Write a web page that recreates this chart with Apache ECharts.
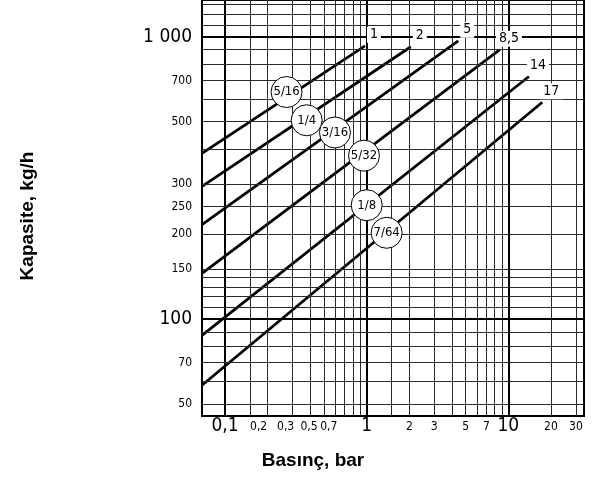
<!DOCTYPE html>
<html><head><meta charset="utf-8">
<script src="https://cdn.jsdelivr.net/npm/echarts@6/dist/echarts.min.js"></script>
<style>html,body{margin:0;padding:0;background:#fff}#c{width:592px;height:481px}</style>
</head><body><div id="c"></div>
<script>
// ---- data ----
const orifices = ['5/16', '1/4', '3/16', '5/32', '1/8', '7/64'];
const maxPressureLabels = ['1', '2', '5', '8,5', '14', '17'];
const startPressure = [0.0688, 0.0688, 0.0688, 0.0688, 0.0688, 0.0688];
const startCapacity = [386, 295, 216, 145, 87.4, 58.2];
const endPressure = [0.973, 2.05, 4.43, 8.72, 13.97, 17.35];
const endCapacity = [929, 922, 968, 900, 723, 586];
const circlePressure = [0.272, 0.377, 0.597, 0.957, 1.0, 1.384];
const circleCapacity = [637, 506, 458, 379, 253, 202];

const xGridValues = [0.1, 0.15, 0.2, 0.3, 0.4, 0.5, 0.6, 0.7, 0.8, 0.9, 1, 1.5, 2, 3, 4, 5, 6, 7, 8, 9, 10, 20, 30];
const yGridValues = [50, 60, 70, 80, 90, 100, 110, 120, 130, 140, 150, 200, 250, 300, 400, 500, 600, 700, 800, 900, 1000, 1100, 1200, 1300];
const xTickValues = [0.1, 0.2, 0.3, 0.5, 0.7, 1, 2, 3, 5, 7, 10, 20, 30];
const xTickLabels = ['0,1', '0,2', '0,3', '0,5', '0,7', '1', '2', '3', '5', '7', '10', '20', '30'];
const yTickValues = [50, 70, 100, 150, 200, 250, 300, 500, 700, 1000];
const yTickLabels = ['50', '70', '100', '150', '200', '250', '300', '500', '700', '1 000'];
const xMin = 0.0688, xMax = 34.2, yMin = 45.3, yMax = 1350;

// ---- styling ----
const NARROW = "'DejaVu Sans Condensed', 'Liberation Sans Narrow', sans-serif";
const BOLD = "'Liberation Sans', Arial, sans-serif";
const xMajor = [0.1, 1, 10];
const yMajor = [100, 1000];
const xLabelShift = {0.2: -9, 0.3: -7, 0.5: -15, 0.7: -16};
const yLabelShift = {200: -8, 70: -10, 50: -10};

const gridLines = [];
xGridValues.forEach(v => {
  const major = xMajor.includes(v);
  const idx = xTickValues.indexOf(v);
  const item = {xAxis: v, lineStyle: {color: major ? '#000' : '#2a2a2a', width: major ? 2 : 1, type: 'solid'}};
  if (idx >= 0) {
    const sh = xLabelShift[v] || 0;
    item.label = {
      show: true, position: 'start', formatter: xTickLabels[idx],
      distance: major ? 1 : 5,
      fontFamily: NARROW, fontSize: major ? 19 : 12, color: '#000',
      padding: sh < 0 ? [0, -2 * sh, 0, 0] : 0
    };
  } else {
    item.label = {show: false};
  }
  gridLines.push(item);
});
yGridValues.forEach(v => {
  const major = yMajor.includes(v);
  const idx = yTickValues.indexOf(v);
  const item = {yAxis: v, lineStyle: {color: major ? '#000' : '#2a2a2a', width: major ? 2 : 1, type: 'solid'}};
  if (idx >= 0) {
    const sh = yLabelShift[v] || 0;
    item.label = {
      show: true, position: 'start', formatter: yTickLabels[idx],
      distance: 10,
      fontFamily: NARROW, fontSize: major ? 19 : 12, color: '#000',
      padding: sh < 0 ? [0, 0, -2 * sh, 0] : 0
    };
  } else {
    item.label = {show: false};
  }
  gridLines.push(item);
});

const series = [{
  type: 'scatter', data: [[1, 100]], symbolSize: 0, z: 1, silent: true,
  markLine: {silent: true, symbol: ['none', 'none'], animation: false, data: gridLines}
}];
orifices.forEach((o, i) => {
  series.push({
    type: 'line', name: o, z: 3, silent: true, showSymbol: false,
    lineStyle: {color: '#000', width: 2.8},
    data: [[startPressure[i], startCapacity[i]], [endPressure[i], endCapacity[i]]]
  });
});
series.push({
  type: 'scatter', z: 5, silent: true, symbol: 'circle', symbolSize: 31,
  itemStyle: {color: '#fff', borderColor: '#000', borderWidth: 1, opacity: 1},
  label: {show: true, position: 'inside', color: '#000', fontFamily: NARROW, fontSize: 13,
    formatter: p => orifices[p.dataIndex]},
  data: orifices.map((o, i) => [circlePressure[i], circleCapacity[i]])
});
series.push({
  type: 'scatter', z: 5, silent: true, symbolSize: 0,
  itemStyle: {opacity: 1},
  label: {show: true, position: 'inside', offset: [9, -11], color: '#000', fontFamily: NARROW, fontSize: 14,
    backgroundColor: '#fff', padding: [1, 3],
    formatter: p => maxPressureLabels[p.dataIndex]},
  data: endPressure.map((p, i) => [endPressure[i], endCapacity[i]])
});

const chart = echarts.init(document.getElementById('c'), null, {renderer: 'canvas'});
chart.setOption({
  animation: false,
  backgroundColor: '#fff',
  grid: {left: 202, right: 8, top: -3, bottom: 65, show: true, borderColor: '#000', borderWidth: 2, backgroundColor: 'transparent'},
  xAxis: {
    type: 'log', logBase: 10, min: xMin, max: xMax,
    axisLine: {show: false}, axisTick: {show: false}, axisLabel: {show: false}, splitLine: {show: false},
    name: 'Basınç, bar', nameLocation: 'middle', nameGap: 35,
    nameTextStyle: {fontFamily: BOLD, fontWeight: 'bold', fontSize: 19, color: '#000', padding: [0, 160, 0, 0]}
  },
  yAxis: {
    type: 'log', logBase: 10, min: yMin, max: yMax,
    axisLine: {show: false}, axisTick: {show: false}, axisLabel: {show: false}, splitLine: {show: false},
    name: 'Kapasite, kg/h', nameLocation: 'middle', nameGap: 165, nameRotate: 90,
    nameTextStyle: {fontFamily: BOLD, fontWeight: 'bold', fontSize: 19, color: '#000', padding: [0, 16, 0, 0]}
  },
  series: series
});
</script></body></html>
